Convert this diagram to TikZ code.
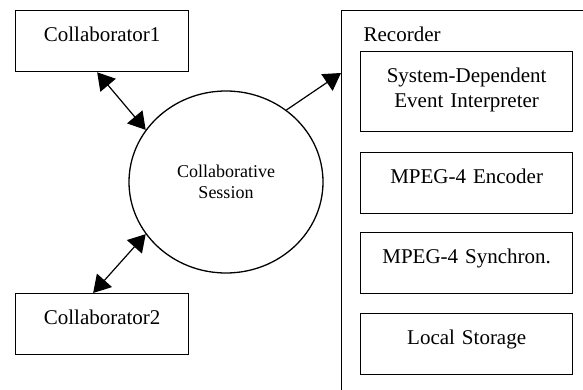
\documentclass[tikz,border=0pt]{standalone}
\usepackage{fontspec}
\setmainfont{Liberation Serif}
\usetikzlibrary{shapes.geometric,arrows.meta}

\begin{document}
\begin{tikzpicture}[x=1pt,y=-1pt,
    every node/.style={font=\fontsize{21}{25}\selectfont},
    caja/.style={draw, line width=1.3pt, inner sep=0pt, anchor=north west, align=center,
      text height=31pt, text depth=30pt},
    flecha/.style={line width=1.2pt, -{Triangle[length=17pt,width=20pt]}},
    dflecha/.style={line width=1.2pt, {Triangle[length=17pt,width=20pt]}-{Triangle[length=17pt,width=20pt]}}]
  \useasboundingbox (0,0) rectangle (583,390);
  \clip (0,0) rectangle (583,390);

  % Colaboradores
  \node[caja, text width=173pt] (colab1) at (15,10) {Collaborator1};
  \node[caja, text width=173pt] (colab2) at (15,293) {Collaborator2};

  % Sesion
  \node[ellipse, draw, line width=1.3pt, minimum width=194pt, minimum height=182pt,
    align=center, font=\fontsize{18}{21}\selectfont] (sesion) at (226,182) {Collaborative\\Session};

  % Grabador y sus modulos
  \node[draw, line width=1.3pt, anchor=north west, inner xsep=22pt, inner ysep=0pt,
    text width=240pt, align=left, text height=31pt, text depth=420pt] (grabador) at (341,10) {Recorder};
  \node[caja, text width=212pt, text depth=49pt] (interp) at (360,51) {System-Dependent\\Event Interpreter};
  \foreach \y/\n/\t in {152/enc/MPEG-4 Encoder, 232/sync/MPEG-4 Synchron., 313/store/Local Storage}
    \node[caja, text width=212pt] (\n) at (360,\y) {\t};

  % Flechas
  \draw[dflecha] ([xshift=-5pt]colab1.south) -- (sesion.147);
  \draw[dflecha] ([xshift=-9pt]colab2.north) -- (sesion.213);
  \draw[flecha] (sesion.50) -- ([yshift=-63pt]grabador.north west);
\end{tikzpicture}
\end{document}
